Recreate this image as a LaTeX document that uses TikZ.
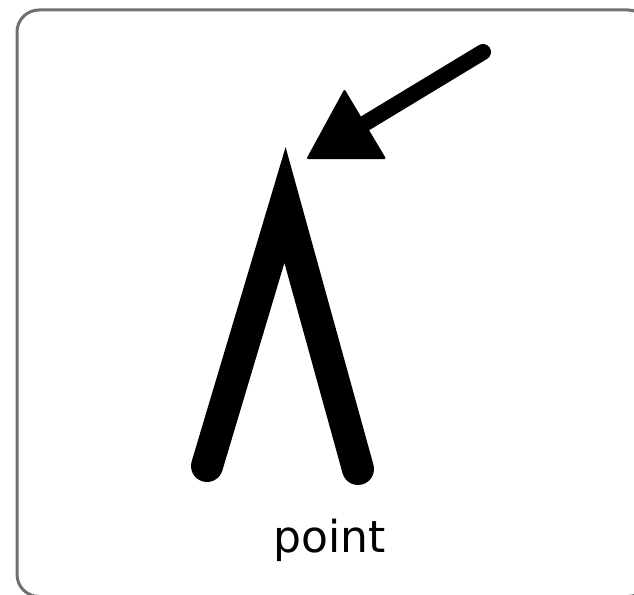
\documentclass[tikz,border=0pt]{standalone}
\usepackage{fontspec}
\setmainfont{DejaVu Sans}
\definecolor{framegray}{RGB}{112,112,112}
\begin{document}
\begin{tikzpicture}[x=1pt,y=-1pt,
  frame/.style={draw=framegray, line width=3, rounded corners=22},
  stroke/.style={line width=32, line cap=round, line join=miter},
  shaft/.style={line width=16, line cap=round},
  head/.style={fill=black, draw=black, line width=2, line join=round}]
\useasboundingbox (0,0) rectangle (634,594);
\begin{scope}
\clip (0,0) rectangle (634,594);
\draw[frame] (17,10) rectangle (650,596.5);
\end{scope}
% the lambda-shaped point
\coordinate (legL) at (207,466);
\coordinate (apex) at (285,205);
\coordinate (legR) at (358,469);
\draw[stroke] (legL) -- (apex) -- (legR);
% arrow
\coordinate (tail) at (483,52);
\coordinate (base) at (364,124);
\coordinate (tip) at (308,158);
\coordinate (c1) at (344.5,91);
\coordinate (c2) at (384.5,158);
\draw[shaft] (tail) -- (base);
\draw[head] (tip) -- (c1) -- (c2) -- cycle;
% label
\node[anchor=base, font=\fontsize{44}{50}\selectfont, inner sep=0] (lbl) at (330,552) {point};
\end{tikzpicture}
\end{document}
